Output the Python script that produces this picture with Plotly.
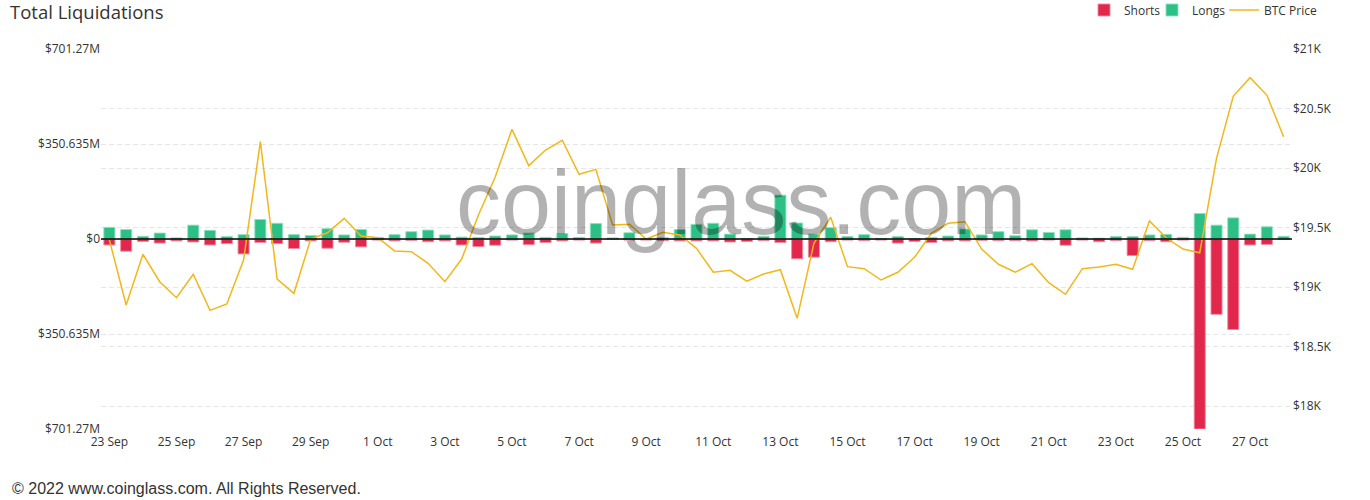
import plotly.graph_objects as go
import pandas as pd

# 12-hour buckets, 23 Sep 2022 00:00 .. 28 Oct 2022 00:00
times = pd.date_range("2022-09-23 00:00", periods=71, freq="12h")

# Liquidations in millions USD
longs = [43, 35, 10, 22, 4, 51, 32, 9, 16, 72, 58, 16, 13, 38, 15, 35, 6, 16,
         27, 33, 15, 7, 6, 11, 15, 22, 6, 20, 6, 57, 4, 23, 2, 5, 35, 54,
         58, 18, 2, 10, 162, 59, 18, 42, 9, 16, 2, 9, 1, 6, 11, 37, 15,
         27, 12, 34, 24, 34, 4, 3, 9, 9, 15, 17, 6, 94, 51, 78, 18, 45, 10]
shorts = [22, 45, 9, 15, 7, 11, 22, 17, 55, 13, 17, 35, 7, 34, 12, 29, 4, 7,
          5, 10, 7, 22, 28, 23, 4, 21, 13, 7, 4, 15, 2, 4, 4, 6, 7, 7,
          7, 11, 9, 6, 13, 73, 67, 10, 4, 6, 4, 15, 9, 13, 7, 7, 5,
          6, 6, 7, 4, 23, 4, 10, 6, 61, 6, 10, 4, 701.27, 278, 334, 22, 20, 2]
# BTC price in USD
btc_price = [19395, 18849, 19275, 19045, 18910, 19107, 18804, 18857, 19227, 20221,
             19067, 18947, 19403, 19456, 19577, 19429, 19414, 19303, 19297, 19199,
             19045, 19235, 19605, 19925, 20325, 20020, 20151, 20233, 19947, 19989,
             19521, 19527, 19403, 19460, 19437, 19325, 19124, 19140, 19050, 19109,
             19146, 18737, 19367, 19586, 19171, 19154, 19059, 19124, 19250, 19451,
             19535, 19549, 19319, 19191, 19124, 19196, 19036, 18939, 19154, 19168,
             19191, 19149, 19555, 19414, 19319, 19288, 20081, 20605, 20759, 20613,
             20263]

left_tick_vals = [-701.27, -350.635, 0, 350.635, 701.27]
left_tick_labels = ["$701.27M", "$350.635M", "$0", "$350.635M", "$701.27M"]
right_tick_vals = [18000, 18500, 19000, 19500, 20000, 20500, 21000]
right_tick_labels = ["$18K", "$18.5K", "$19K", "$19.5K", "$20K", "$20.5K", "$21K"]

RED = "#e1274c"
GREEN = "#2cbf86"
YELLOW = "#f3b71b"
TEXT = "#333333"
GRID = "#e6e6e6"
FONT = "Open Sans"

W, H = 1370, 500
PL, PR, PT, PB = 101, 1292, 49, 429

bar_w = 0.66 * 12 * 3600 * 1000

fig = go.Figure()
fig.add_bar(x=times, y=[-v * 1e6 for v in shorts], name="Shorts", width=bar_w,
            marker=dict(color=RED, line=dict(color="rgba(240,140,160,0.9)", width=1)),
            legend="legend")
fig.add_bar(x=times, y=[v * 1e6 for v in longs], name="Longs", width=bar_w,
            marker=dict(color=GREEN, line=dict(color="rgba(140,225,190,0.9)", width=1)),
            legend="legend2")
fig.add_scatter(x=times, y=btc_price, name="BTC Price", yaxis="y2", mode="lines",
                line=dict(color=YELLOW, width=1.5), legend="legend3")


def legend_at(px):
    return dict(orientation="h", xref="container", yref="container",
                x=px / W, xanchor="left", y=1 - 10 / H, yanchor="middle",
                font=dict(family=FONT, size=12, color=TEXT), itemwidth=30,
                bgcolor="rgba(0,0,0,0)")


fig.update_layout(
    width=W, height=H,
    margin=dict(l=PL, r=W - PR, t=PT, b=H - PB, autoexpand=False),
    paper_bgcolor="white", plot_bgcolor="white",
    barmode="relative",
    font=dict(family=FONT, size=12, color=TEXT),
    title=dict(text="Total Liquidations", x=10 / W, xanchor="left", xref="container",
               y=1 - 13 / H, yanchor="middle", yref="container",
               font=dict(family=FONT, size=18.5, color=TEXT)),
    legend=legend_at(1084),
    legend2=legend_at(1152),
    legend3=legend_at(1224),
    xaxis=dict(type="date", range=["2022-09-22 18:00", "2022-10-28 06:00"],
               tick0="2022-09-23", dtick=2 * 86400000, tickformat="%-d %b",
               showgrid=False, showline=False, zeroline=False, ticks="",
               ticklabelstandoff=4,
               tickfont=dict(family=FONT, size=12, color=TEXT)),
    yaxis=dict(range=[-701.27e6, 701.27e6],
               tickvals=[v * 1e6 for v in left_tick_vals], ticktext=left_tick_labels,
               showgrid=True, gridcolor=GRID, griddash="5px,3px", gridwidth=1,
               zeroline=False, showline=False, ticks="",
               tickfont=dict(family=FONT, size=12, color=TEXT)),
    yaxis2=dict(overlaying="y", side="right", range=[17807, 21000],
                tickvals=right_tick_vals, ticktext=right_tick_labels,
                showgrid=True, gridcolor=GRID, griddash="5px,3px", gridwidth=1,
                zeroline=False, showline=False, ticks="",
                tickfont=dict(family=FONT, size=12, color=TEXT)),
    showlegend=True,
)

# solid zero baseline
fig.add_hline(y=0, line=dict(color="#000000", width=1.5), layer="above")

fig.add_annotation(text="coinglass.com", xref="paper", yref="paper",
                   x=(741 - PL) / (PR - PL), y=(PB - 203) / (PB - PT),
                   xanchor="center", yanchor="middle", showarrow=False,
                   font=dict(family="Liberation Sans", size=90, color="rgba(0,0,0,0.3)"))
fig.add_annotation(text="© 2022 www.coinglass.com. All Rights Reserved.",
                   xref="paper", yref="paper",
                   x=(10 - PL) / (PR - PL), y=(PB - 488) / (PB - PT),
                   xanchor="left", yanchor="middle", showarrow=False,
                   font=dict(family="Liberation Sans", size=16, color=TEXT))

# remove the default 8px page margin so the figure sits at the window's corner
fig.write_html("out.html", config={"displayModeBar": False},
               post_script="document.body.style.margin='0px';")
